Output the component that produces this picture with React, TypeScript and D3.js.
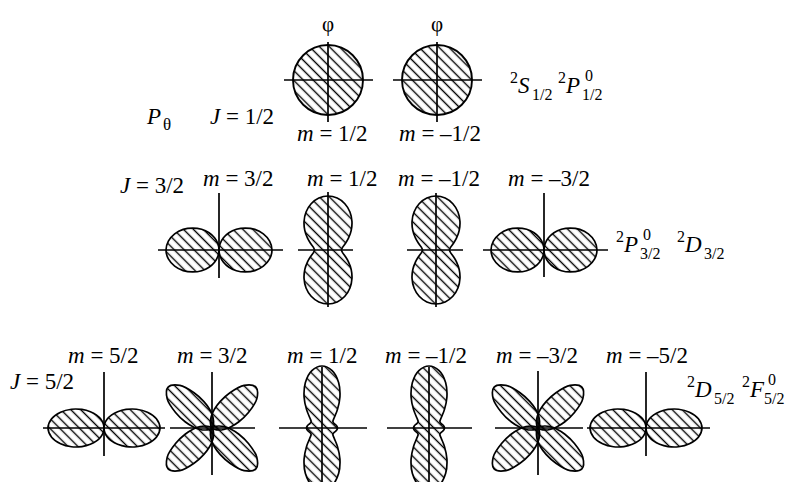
import React from "react";
import * as d3 from "d3";

const FONT = "Liberation Serif";

// Angular distributions P_θ, radii (relative) sampled every 10°, 0°..90°.
// "profile" arrays: angle measured from the quantization (vertical) axis.
// "lobe" arrays: angle measured from the lobe's own axis, lobe closes at 90°.
const SAMPLE_STEP = 10;
const profileJ32m12 = [1, 0.977, 0.912, 0.813, 0.69, 0.56, 0.438, 0.338, 0.273, 0.25];
const profileJ52m12 = [1, 0.941, 0.783, 0.578, 0.387, 0.257, 0.203, 0.209, 0.236, 0.25];
const lobeJ32m32 = [1, 0.97, 0.89, 0.78, 0.645, 0.51, 0.375, 0.245, 0.12, 0];
const lobeJ52m52 = [1, 0.95, 0.825, 0.67, 0.515, 0.38, 0.265, 0.17, 0.08, 0];
const lobeJ52m32 = [1, 0.89, 0.66, 0.46, 0.31, 0.2, 0.115, 0.055, 0.02, 0];
const axesSideways = [90, 270];
const axesDiagonal = [47, 133, 227, 313];

const jLevels = ["1/2", "3/2", "5/2"];
const mRow1 = ["1/2", "–1/2"];
const mRow2 = ["3/2", "1/2", "–1/2", "–3/2"];
const mRow3 = ["5/2", "3/2", "1/2", "–1/2", "–3/2", "–5/2"];
// [letter, upper index, lower index]
const termsRow1 = [["S", "", "1/2"], ["P", "0", "1/2"]];
const termsRow2 = [["P", "0", "3/2"], ["D", "", "3/2"]];
const termsRow3 = [["D", "", "5/2"], ["F", "0", "5/2"]];

type Shape =
  | { kind: "circle" }
  | { kind: "profile"; q: number[] }
  | { kind: "lobes"; h: number[]; axes: number[] };

const rad = (deg: number) => (deg * Math.PI) / 180;

function profilePoints(q: number[]): [number, number][] {
  const pts: [number, number][] = [];
  for (let t = 0; t < 360; t += SAMPLE_STEP) {
    let a = t;
    if (t > 90 && t <= 180) a = 180 - t;
    else if (t > 180 && t <= 270) a = t - 180;
    else if (t > 270) a = 360 - t;
    pts.push([rad(t), q[Math.round(a / SAMPLE_STEP)]]);
  }
  return pts;
}

function lobePoints(h: number[], axis: number): [number, number][] {
  const pts: [number, number][] = [];
  for (let a = -90 + SAMPLE_STEP; a <= 90; a += SAMPLE_STEP) {
    pts.push([rad(axis + a), h[Math.round(Math.abs(a) / SAMPLE_STEP)]]);
  }
  return pts;
}

type Axis = [number, number, number, number]; // left, right, up, down

function Pattern({ cx, cy, R, shape, axis }: { cx: number; cy: number; R: number; shape: Shape; axis: Axis }) {
  const r = d3.scaleLinear().domain([0, 1]).range([0, R]);
  const line = d3
    .lineRadial<[number, number]>()
    .angle((d) => d[0])
    .radius((d) => r(d[1]))
    .curve(d3.curveCatmullRomClosed.alpha(0.5));
  let paths: string[] = [];
  if (shape.kind === "profile") paths = [line(profilePoints(shape.q)) as string];
  if (shape.kind === "lobes") paths = shape.axes.map((ax) => line(lobePoints(shape.h, ax)) as string);
  const [l, rr, u, dn] = axis;
  return (
    <g transform={`translate(${cx},${cy})`}>
      {shape.kind === "circle" && (
        <circle r={r(1)} fill="url(#hatch)" stroke="#000" strokeWidth={1.9} />
      )}
      {paths.map((p, i) => (
        <path key={i} d={p} fill="url(#hatch)" stroke="#000" strokeWidth={1.7} strokeLinejoin="round" />
      ))}
      <line x1={-l} x2={rr} y1={0} y2={0} stroke="#000" strokeWidth={1.7} />
      <line x1={0} x2={0} y1={-u} y2={dn} stroke="#000" strokeWidth={1.7} />
    </g>
  );
}

function MLabel({ x, y, m }: { x: number; y: number; m: string }) {
  return (
    <text x={x} y={y} fontFamily={FONT} fontSize={23}>
      <tspan fontStyle="italic">m</tspan>
      {" = " + m}
    </text>
  );
}

function JLabel({ x, y, j }: { x: number; y: number; j: string }) {
  return (
    <text x={x} y={y} fontFamily={FONT} fontSize={23}>
      <tspan fontStyle="italic">J</tspan>
      {" = " + j}
    </text>
  );
}

const letterOffset: Record<string, [number, number]> = {
  S: [22, 25],
  P: [24, 27],
  D: [27, 29],
  F: [22, 26],
};

function Term({ x, y, t }: { x: number; y: number; t: string[] }) {
  const [L, up, low] = t;
  const [subDx, supDx] = letterOffset[L];
  return (
    <g>
      <text x={x} y={y - 10} fontFamily={FONT} fontSize={16}>2</text>
      <text x={x + 8} y={y} fontFamily={FONT} fontSize={23} fontStyle="italic">{L}</text>
      {up && <text x={x + supDx} y={y - 12} fontFamily={FONT} fontSize={16}>{up}</text>}
      <text x={x + subDx} y={y + 7} fontFamily={FONT} fontSize={16}>{low}</text>
    </g>
  );
}

export default function App() {
  const circle: Shape = { kind: "circle" };
  const j32m32: Shape = { kind: "lobes", h: lobeJ32m32, axes: axesSideways };
  const j32m12: Shape = { kind: "profile", q: profileJ32m12 };
  const j52m52: Shape = { kind: "lobes", h: lobeJ52m52, axes: axesSideways };
  const j52m32: Shape = { kind: "lobes", h: lobeJ52m32, axes: axesDiagonal };
  const j52m12: Shape = { kind: "profile", q: profileJ52m12 };

  const row1 = [
    { cx: 328, shape: circle, axis: [44, 45, 38, 42] as Axis },
    { cx: 437, shape: circle, axis: [44, 45, 38, 42] as Axis },
  ];
  const row2 = [
    { cx: 219, shape: j32m32, R: 53, axis: [61, 64, 57, 28] as Axis },
    { cx: 328, shape: j32m12, R: 54, axis: [30, 25, 58, 57] as Axis },
    { cx: 436, shape: j32m12, R: 54, axis: [29, 27, 57, 57] as Axis },
    { cx: 544, shape: j32m32, R: 53, axis: [61, 64, 57, 27] as Axis },
  ];
  const row3 = [
    { cx: 104, shape: j52m52, R: 56, axis: [61, 61, 56, 28] as Axis },
    { cx: 212, shape: j52m32, R: 60, axis: [42, 43, 56, 47] as Axis },
    { cx: 322, shape: j52m12, R: 62, axis: [43, 45, 61, 60] as Axis },
    { cx: 429, shape: j52m12, R: 62, axis: [42, 43, 61, 60] as Axis },
    { cx: 538, shape: j52m32, R: 60, axis: [43, 45, 57, 47] as Axis },
    { cx: 646, shape: j52m52, R: 56, axis: [59, 64, 56, 28] as Axis },
  ];
  const mRow1X = [297, 399];
  const mRow2X = [203, 307, 398, 508];
  const mRow3X = [68, 177, 287, 385, 496, 606];

  return (
    <svg width={796} height={482} style={{ position: "absolute", left: 0, top: 0 }}>
      <defs>
        <pattern id="hatch" patternUnits="userSpaceOnUse" width={7} height={7} patternTransform="rotate(-45)">
          <line x1={3.5} x2={3.5} y1={0} y2={7} stroke="#000" strokeWidth={1.4} />
        </pattern>
      </defs>
      <rect width={796} height={482} fill="#fff" />

      {/* J = 1/2 */}
      {row1.map((p, i) => (
        <Pattern key={i} cx={p.cx} cy={80} R={35} shape={p.shape} axis={p.axis} />
      ))}
      {row1.map((p, i) => (
        <text key={i} x={p.cx} y={31} textAnchor="middle" fontFamily={FONT} fontSize={21}>φ</text>
      ))}
      {mRow1.map((m, i) => (
        <MLabel key={i} x={mRow1X[i]} y={141} m={m} />
      ))}
      <text x={147} y={124} fontFamily={FONT} fontSize={23} fontStyle="italic">P</text>
      <text x={163} y={130} fontFamily={FONT} fontSize={17}>θ</text>
      <JLabel x={210} y={124} j={jLevels[0]} />
      <Term x={510} y={93} t={termsRow1[0]} />
      <Term x={558} y={93} t={termsRow1[1]} />

      {/* J = 3/2 */}
      {row2.map((p, i) => (
        <Pattern key={i} cx={p.cx} cy={250} R={p.R} shape={p.shape} axis={p.axis} />
      ))}
      {mRow2.map((m, i) => (
        <MLabel key={i} x={mRow2X[i]} y={186} m={m} />
      ))}
      <JLabel x={120} y={193} j={jLevels[1]} />
      <Term x={616} y={252} t={termsRow2[0]} />
      <Term x={677} y={252} t={termsRow2[1]} />

      {/* J = 5/2 */}
      {row3.map((p, i) => (
        <Pattern key={i} cx={p.cx} cy={428} R={p.R} shape={p.shape} axis={p.axis} />
      ))}
      {mRow3.map((m, i) => (
        <MLabel key={i} x={mRow3X[i]} y={363} m={m} />
      ))}
      <JLabel x={10} y={389} j={jLevels[2]} />
      <Term x={687} y={397} t={termsRow3[0]} />
      <Term x={742} y={397} t={termsRow3[1]} />
    </svg>
  );
}
